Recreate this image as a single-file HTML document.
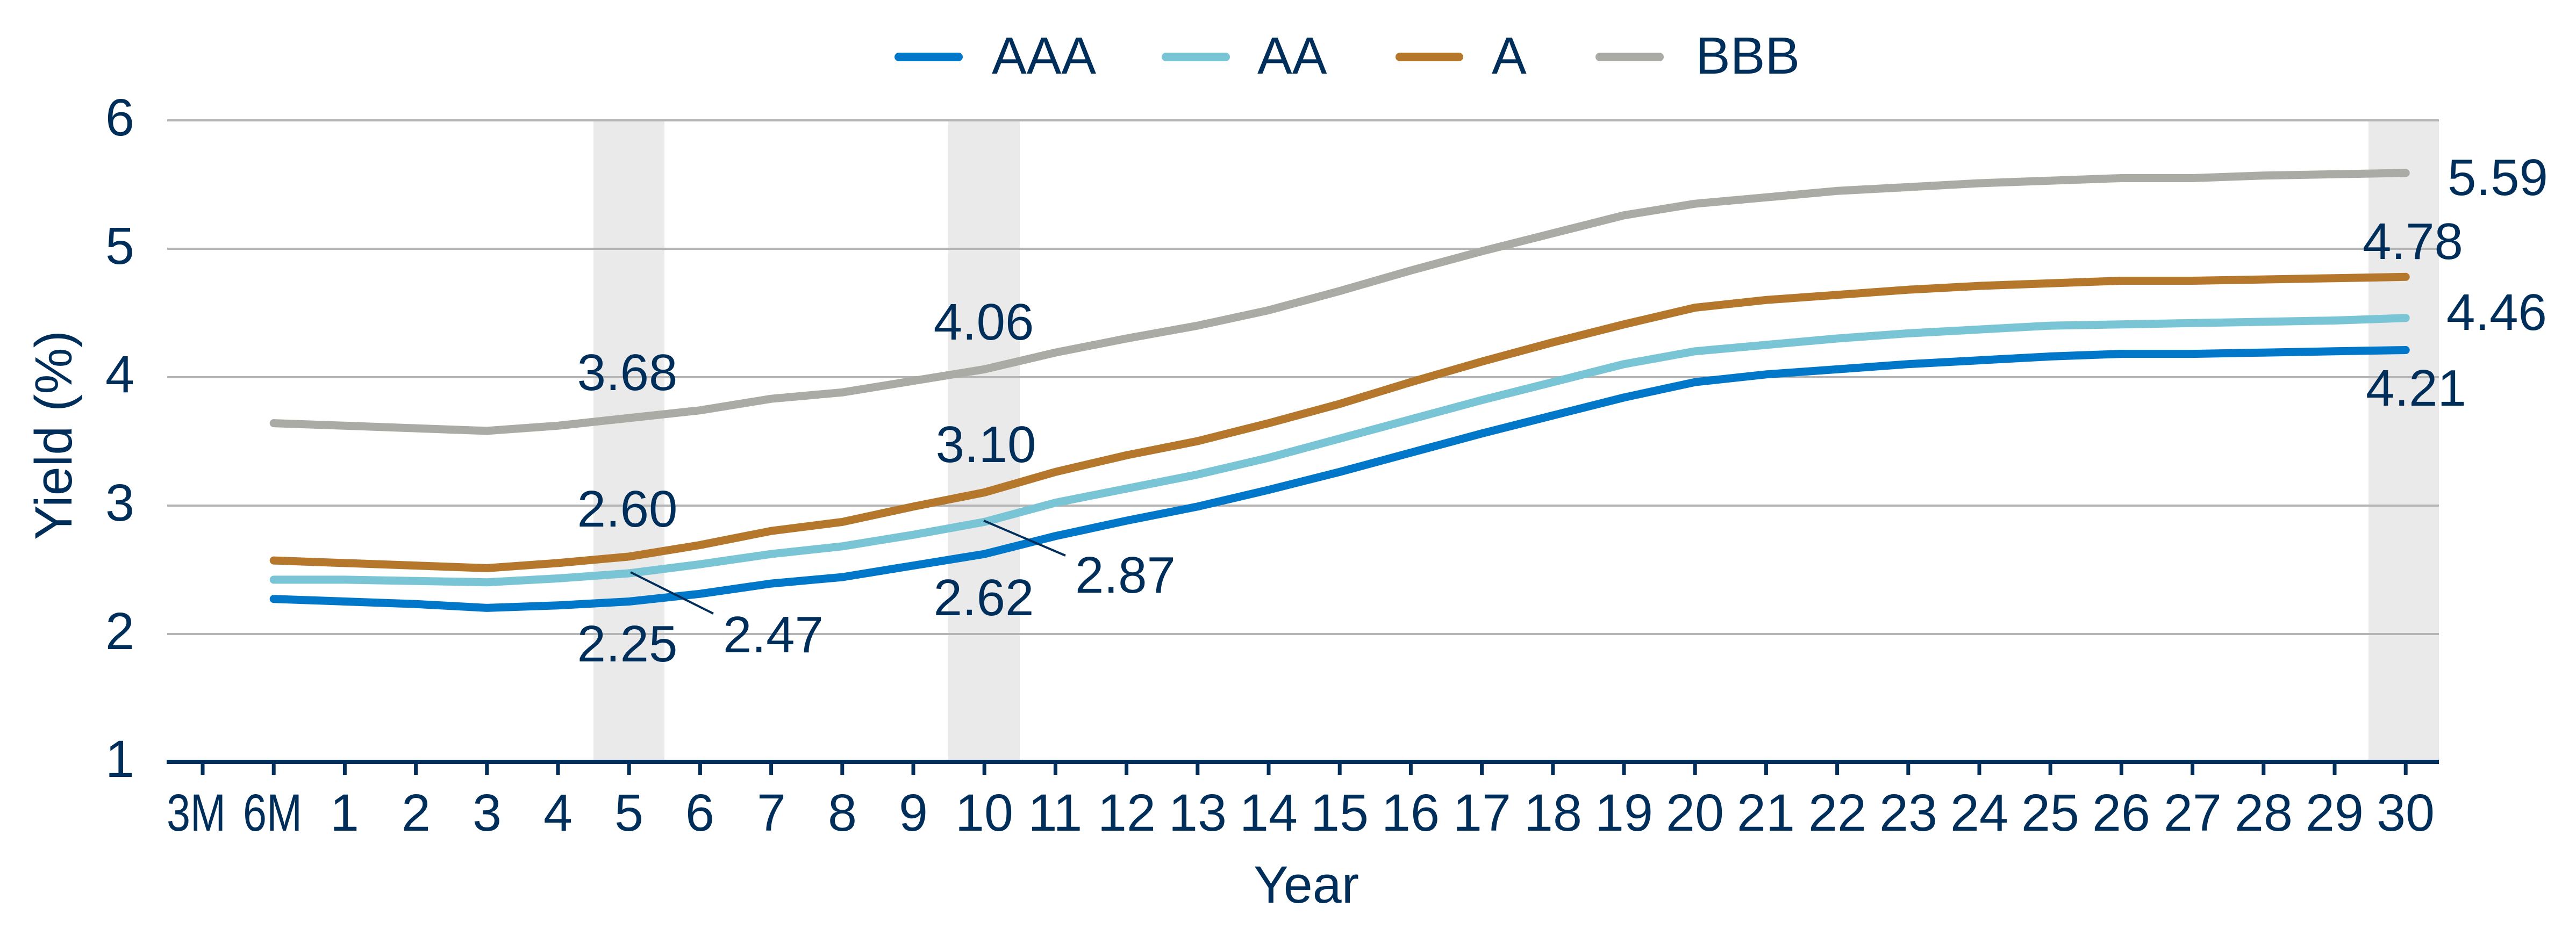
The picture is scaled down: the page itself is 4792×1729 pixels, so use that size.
<!DOCTYPE html>
<html><head><meta charset="utf-8"><style>
html,body{margin:0;padding:0;background:#fff;}
svg{display:block;}
text{font-family:"Liberation Sans",sans-serif;fill:#002E5A;}
</style></head><body>
<svg id="c" width="4792" height="1729" viewBox="0 0 4792 1729" xmlns="http://www.w3.org/2000/svg">
<rect width="4792" height="1729" fill="#fff"/>
<rect x="1104" y="224" width="132" height="1194" fill="#EAEAEA"/>
<rect x="1764" y="224" width="133" height="1194" fill="#EAEAEA"/>
<rect x="4406" y="224" width="131" height="1194" fill="#EAEAEA"/>
<g stroke="#B5B5B5" stroke-width="4">
<line x1="311" x2="4537" y1="224" y2="224"/>
<line x1="311" x2="4537" y1="463" y2="463"/>
<line x1="311" x2="4537" y1="702" y2="702"/>
<line x1="311" x2="4537" y1="941" y2="941"/>
<line x1="311" x2="4537" y1="1180" y2="1180"/>
</g>
<g id="series" fill="none" stroke-width="15" stroke-linejoin="round" stroke-linecap="round"></g>
<rect x="310" y="1414" width="4227" height="8" fill="#002E5A"/>
<g id="ticks" fill="#002E5A"></g>
<g font-size="97" text-anchor="end">
<text x="250" y="252">6</text>
<text x="250" y="491">5</text>
<text x="250" y="730">4</text>
<text x="250" y="969">3</text>
<text x="250" y="1208">2</text>
<text x="250" y="1446">1</text>
</g>
<text font-size="97" text-anchor="middle" transform="translate(133,810) rotate(-90)">Yield (%)</text>
<g font-size="97" text-anchor="middle" id="xl">
<text x="365" y="1546" textLength="110" lengthAdjust="spacingAndGlyphs">3M</text><text x="507" y="1546" textLength="110" lengthAdjust="spacingAndGlyphs">6M</text><text x="641" y="1546">1</text><text x="774" y="1546">2</text><text x="906" y="1546">3</text><text x="1038" y="1546">4</text><text x="1170" y="1546">5</text><text x="1302" y="1546">6</text><text x="1435" y="1546">7</text><text x="1567" y="1546">8</text><text x="1699" y="1546">9</text><text x="1831" y="1546">10</text><text x="1963" y="1546">11</text><text x="2096" y="1546">12</text><text x="2228" y="1546">13</text><text x="2360" y="1546">14</text><text x="2492" y="1546">15</text><text x="2624" y="1546">16</text><text x="2757" y="1546">17</text><text x="2889" y="1546">18</text><text x="3021" y="1546">19</text><text x="3153" y="1546">20</text><text x="3285" y="1546">21</text><text x="3418" y="1546">22</text><text x="3550" y="1546">23</text><text x="3682" y="1546">24</text><text x="3814" y="1546">25</text><text x="3946" y="1546">26</text><text x="4079" y="1546">27</text><text x="4211" y="1546">28</text><text x="4343" y="1546">29</text><text x="4475" y="1546">30</text>
</g>
<text x="2430" y="1680" font-size="97" text-anchor="middle">Year</text>
<g stroke-width="16" stroke-linecap="round">
<line x1="1672" x2="1783" y1="106" y2="106" stroke="#0077C8"/>
<line x1="2169" x2="2280" y1="106" y2="106" stroke="#7AC5D5"/>
<line x1="2604" x2="2714" y1="106" y2="106" stroke="#B5772B"/>
<line x1="2976" x2="3087" y1="106" y2="106" stroke="#ABABA5"/>
</g>
<g font-size="97">
<text x="1845" y="137">AAA</text>
<text x="2339" y="137">AA</text>
<text x="2775" y="137">A</text>
<text x="3154" y="137">BBB</text>
</g>
<g stroke="#002E5A" stroke-width="4">
<line x1="1173" y1="1065" x2="1327" y2="1142"/>
<line x1="1830" y1="969" x2="1982" y2="1034"/>
</g>
<g font-size="96">
<text x="1167" y="726" text-anchor="middle">3.68</text>
<text x="1167" y="980" text-anchor="middle">2.60</text>
<text x="1167" y="1231" text-anchor="middle">2.25</text>
<text x="1345" y="1214">2.47</text>
<text x="1830" y="632" text-anchor="middle">4.06</text>
<text x="1834" y="860" text-anchor="middle">3.10</text>
<text x="1830" y="1145" text-anchor="middle">2.62</text>
<text x="2000" y="1103">2.87</text>
<text x="4553" y="363">5.59</text>
<text x="4395" y="482">4.78</text>
<text x="4551" y="614">4.46</text>
<text x="4401" y="755">4.21</text>
</g>
</svg>
<script>
(function(){
var ns="http://www.w3.org/2000/svg";
function X(i){return 377+132.2*i;}
function Y(v){return 1418-238.8*(v-1);}
var d={
"#ABABA5":[3.64,3.62,3.60,3.58,3.62,3.68,3.74,3.83,3.88,3.97,4.06,4.19,4.30,4.40,4.52,4.67,4.83,4.98,5.12,5.26,5.35,5.40,5.45,5.48,5.51,5.53,5.55,5.55,5.57,5.58,5.59],
"#B5772B":[2.57,2.55,2.53,2.51,2.55,2.60,2.69,2.80,2.87,2.99,3.10,3.26,3.39,3.50,3.64,3.79,3.96,4.12,4.27,4.41,4.54,4.60,4.64,4.68,4.71,4.73,4.75,4.75,4.76,4.77,4.78],
"#7AC5D5":[2.42,2.42,2.41,2.40,2.43,2.47,2.54,2.62,2.68,2.77,2.87,3.02,3.13,3.24,3.37,3.52,3.67,3.82,3.96,4.10,4.20,4.25,4.30,4.34,4.37,4.40,4.41,4.42,4.43,4.44,4.46],
"#0077C8":[2.27,2.25,2.23,2.20,2.22,2.25,2.31,2.39,2.44,2.53,2.62,2.76,2.88,2.99,3.12,3.26,3.41,3.56,3.70,3.84,3.96,4.02,4.06,4.10,4.13,4.16,4.18,4.18,4.19,4.20,4.21]};
var g=document.getElementById("series");
for(var c in d){var p=[];d[c].forEach(function(v,k){p.push(X(k+1).toFixed(1)+","+Y(v).toFixed(1));});
var pl=document.createElementNS(ns,"polyline");pl.setAttribute("points",p.join(" "));pl.setAttribute("stroke",c);g.appendChild(pl);}
var t=document.getElementById("ticks");
for(var i=0;i<32;i++){var r=document.createElementNS(ns,"rect");r.setAttribute("x",(X(i)-3.5).toFixed(1));r.setAttribute("y","1418");r.setAttribute("width","7");r.setAttribute("height","24");t.appendChild(r);}
})();
</script>
</body></html>
